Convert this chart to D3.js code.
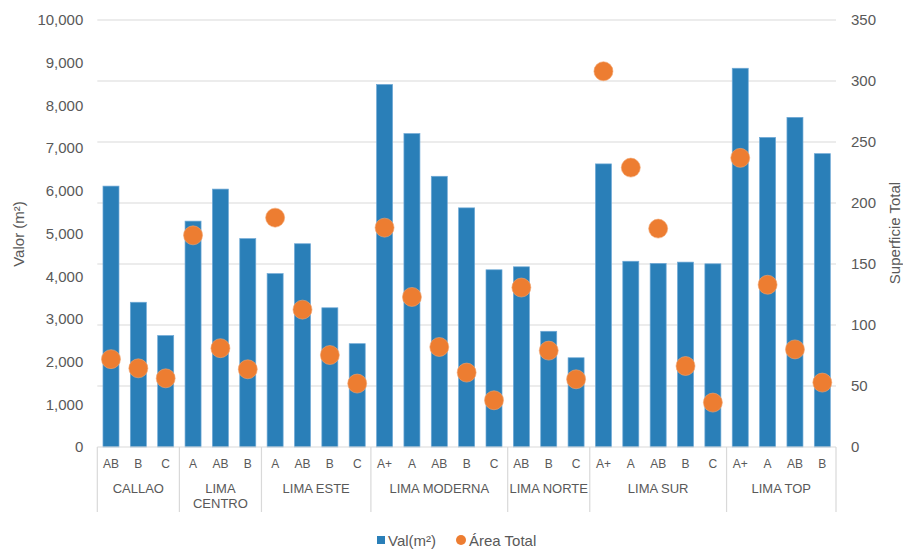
<!DOCTYPE html>
<html>
<head>
<meta charset="utf-8">
<script src="https://cdn.jsdelivr.net/npm/d3@7/dist/d3.min.js"></script>
<style>
  html, body { margin: 0; padding: 0; background: #fff; }
  svg text { font-family: "Liberation Sans", Arial, sans-serif; fill: #595959; }
</style>
</head>
<body>
<svg id="chart" width="903" height="550"></svg>
<script>
// Zones and property classes, one entry per bar
const zones = ["CALLAO", "LIMA CENTRO", "LIMA ESTE", "LIMA MODERNA", "LIMA NORTE", "LIMA SUR", "LIMA TOP"];
const zoneOfBar = [0,0,0, 1,1,1, 2,2,2,2, 3,3,3,3,3, 4,4,4, 5,5,5,5,5, 6,6,6,6];
const classes = ["AB","B","C", "A","AB","B", "A","AB","B","C", "A+","A","AB","B","C", "AB","B","C", "A+","A","AB","B","C", "A+","A","AB","B"];

// Value per m² (left axis)
const valM2 = [6110,3390,2610, 5290,6040,4880, 4060,4760,3260,2420, 8490,7340,6340,5600,4150,
               4220,2710,2090, 6630,4350,4300,4330,4290, 8870,7250,7720,6870];
// Total area (right axis)
const areaTotal = [72,64.5,56.3, 173.5,81,63.7, 188,112.6,75.4,52, 179.8,123,82,61,38.3,
                   130.7,79,55.5, 308,229,179,66.4,36.4, 237,133,80,52.8];

const leftTicks = [0,1000,2000,3000,4000,5000,6000,7000,8000,9000,10000];
const rightTicks = [0,50,100,150,200,250,300,350];

const svg = d3.select("#chart");
const plotLeft = 97.3, plotRight = 836, plotTop = 20, plotBottom = 447;

const x = d3.scaleBand().domain(d3.range(classes.length)).range([plotLeft, plotRight]).paddingInner(0.415).paddingOuter(0.2075);
const yL = d3.scaleLinear().domain([0, 10000]).range([plotBottom, plotTop]);
const yR = d3.scaleLinear().domain([0, 350]).range([plotBottom, plotTop]);
const step = x.step();

const grid = "#d9d9d9";

// Horizontal gridlines at the right-axis ticks
svg.append("g").selectAll("line").data(rightTicks.filter(d => d > 0)).join("line")
  .attr("x1", plotLeft).attr("x2", plotRight)
  .attr("y1", d => yR(d)).attr("y2", d => yR(d))
  .attr("stroke", grid).attr("stroke-width", 1);

// Left axis
const axL = svg.append("g").attr("transform", `translate(${plotLeft},0)`)
  .call(d3.axisLeft(yL).tickValues(leftTicks).tickFormat(d3.format(",")).tickSize(0).tickPadding(14));
axL.select(".domain").remove();
axL.selectAll("text").attr("font-size", 15).style("fill", "#595959");

// Right axis
const axR = svg.append("g").attr("transform", `translate(${plotRight},0)`)
  .call(d3.axisRight(yR).tickValues(rightTicks).tickSize(0).tickPadding(15));
axR.select(".domain").remove();
axR.selectAll("text").attr("font-size", 15).style("fill", "#595959");

// Axis titles
svg.append("text").attr("transform", `translate(24,234) rotate(-90)`)
  .attr("text-anchor", "middle").attr("font-size", 15).text("Valor (m²)");
svg.append("text").attr("transform", `translate(900,233) rotate(-90)`)
  .attr("text-anchor", "middle").attr("font-size", 15).text("Superficie Total");

// Bars
svg.append("g").selectAll("rect").data(valM2).join("rect")
  .attr("x", (d, i) => x(i)).attr("width", x.bandwidth())
  .attr("y", d => yL(d)).attr("height", d => yL(0) - yL(d))
  .attr("fill", "#2A7FB8").attr("stroke", "#6fa9d6").attr("stroke-width", 0.7);

// Category axis line
svg.append("line").attr("x1", plotLeft).attr("x2", plotRight).attr("y1", plotBottom).attr("y2", plotBottom)
  .attr("stroke", grid).attr("stroke-width", 1);

// Zone boundaries
const zoneStart = zones.map((z, k) => zoneOfBar.indexOf(k));
const zoneEnd = zones.map((z, k) => zoneOfBar.lastIndexOf(k) + 1);
const bounds = zoneStart.concat([classes.length]);
svg.append("g").selectAll("line").data(bounds).join("line")
  .attr("x1", i => plotLeft + i * step).attr("x2", i => plotLeft + i * step)
  .attr("y1", plotBottom).attr("y2", 512)
  .attr("stroke", grid).attr("stroke-width", 1.2);

// Class labels
svg.append("g").selectAll("text").data(classes).join("text")
  .attr("x", (d, i) => x(i) + x.bandwidth() / 2).attr("y", 468)
  .attr("text-anchor", "middle").attr("font-size", 12).text(d => d);

// Zone labels, wrapped when wider than their zone
const zl = svg.append("g");
zones.forEach((z, k) => {
  const cx = plotLeft + (zoneStart[k] + zoneEnd[k]) / 2 * step;
  const avail = (zoneEnd[k] - zoneStart[k]) * step - 2;
  const t = zl.append("text").attr("x", cx).attr("y", 493).attr("text-anchor", "middle").attr("font-size", 13).text(z);
  if (t.node().getComputedTextLength() > avail) {
    const words = z.split(" ");
    t.text(null);
    words.forEach((w, j) => t.append("tspan").attr("x", cx).attr("dy", j === 0 ? 0 : 14.5).text(w));
  }
});

// Area dots
svg.append("g").selectAll("circle").data(areaTotal).join("circle")
  .attr("cx", (d, i) => x(i) + x.bandwidth() / 2).attr("cy", d => yR(d))
  .attr("r", 9.5).attr("fill", "#ED7D31").attr("stroke", "#f3a56f").attr("stroke-width", 0.6);

// Legend
const lg = svg.append("g");
lg.append("rect").attr("x", 377).attr("y", 536).attr("width", 8).attr("height", 8).attr("fill", "#2A7FB8");
lg.append("text").attr("x", 388).attr("y", 545.5).attr("font-size", 15).text("Val(m²)");
lg.append("circle").attr("cx", 461).attr("cy", 540).attr("r", 5).attr("fill", "#ED7D31");
lg.append("text").attr("x", 469).attr("y", 545.5).attr("font-size", 15).text("Área Total");
</script>
</body>
</html>
